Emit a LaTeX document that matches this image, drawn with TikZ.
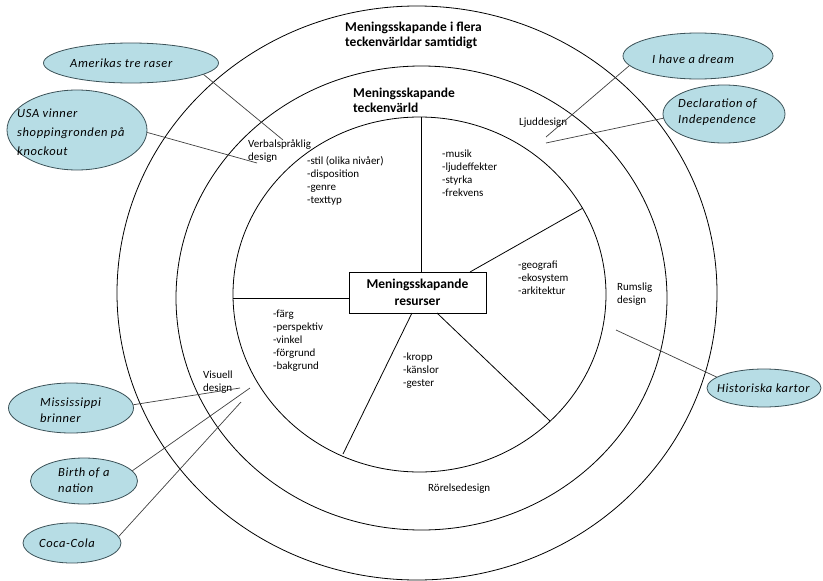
\documentclass[tikz,border=0pt]{standalone}
\usepackage{fontspec}
\setmainfont{Carlito}
\newfontfamily\calloutfont[LetterSpace=5]{Carlito}
\usetikzlibrary{shapes.geometric}
\definecolor{calfill}{RGB}{183,221,229}
\definecolor{caldraw}{RGB}{60,82,88}
\begin{document}
\begin{tikzpicture}[x=1pt,y=-1pt,
  ring/.style={draw=black,line width=0.8pt},
  lbl/.style={font=\fontsize{11}{13}\selectfont,align=left,inner sep=0pt,anchor=west},
  ttl/.style={font=\bfseries\fontsize{13.5}{15.5}\selectfont,align=left,inner sep=0pt,anchor=west},
  callout/.style={ellipse,draw=caldraw,fill=calfill,line width=0.8pt,inner sep=0pt},
  ctext/.style={font=\calloutfont\itshape\fontsize{12.5}{16}\selectfont,align=left,inner sep=0pt,anchor=west},
  conn/.style={draw=black!75,line width=0.7pt},
  spoke/.style={draw=black,line width=0.8pt},
  resbox/.style={draw=black,line width=1pt,fill=white,minimum width=137pt,minimum height=41pt,inner sep=0pt,
    font=\bfseries\fontsize{13.5}{17}\selectfont,align=center}]
\useasboundingbox (0,0) rectangle (823,581);
\fill[white] (0,0) rectangle (823,581);

% rings
\draw[ring] (417,293) ellipse [x radius=300,y radius=287];
\draw[ring] (421.5,298) ellipse [x radius=245.5,y radius=232];
\draw[ring] (419.5,294.5) ellipse [x radius=186.5,y radius=177.5];

% central box
\node[resbox] (box) at (417.5,292.5) {Meningsskapande\\resurser};

% spokes
\coordinate (s1) at (421,117);
\coordinate (s2) at (233,298);
\coordinate (s3) at (583,208);
\coordinate (s3b) at (470,272);
\coordinate (s4) at (343,454);
\coordinate (s4b) at (412,313);
\coordinate (s5) at (550,421);
\coordinate (s5b) at (437,313);
\draw[spoke] (s1) -- (s1 |- box.north);
\draw[spoke] (s2) -- (s2 -| box.west);
\draw[spoke] (s3) -- (s3b);
\draw[spoke] (s4) -- (s4b);
\draw[spoke] (s5) -- (s5b);

% titles
\node[ttl] (t1) at (345,35.5) {Meningsskapande i flera\\teckenvärldar samtidigt};
\node[ttl] (t2) at (353,100.5) {Meningsskapande\\teckenvärld};

% labels
\node[lbl] (verbal) at (248,151.5) {Verbalspråklig\\design};
\node[lbl] (stil) at (307,181) {-stil (olika nivåer)\\-disposition\\-genre\\-texttyp};
\node[lbl] (musik) at (442,173.5) {-musik\\-ljudeffekter\\-styrka\\-frekvens};
\node[lbl] (ljud) at (519,123) {Ljuddesign};
\node[lbl] (geo) at (518,277.5) {-geografi\\-ekosystem\\-arkitektur};
\node[lbl] (rums) at (617,294) {Rumslig\\design};
\node[lbl] (farg) at (273,341) {-färg\\-perspektiv\\-vinkel\\-förgrund\\-bakgrund};
\node[lbl] (kropp) at (403,371) {-kropp\\-känslor\\-gester};
\node[lbl] (visuell) at (203,382) {Visuell\\design};
\node[lbl] (rorelse) at (428,489) {Rörelsedesign};

% callouts
\node[callout,minimum width=175pt,minimum height=40pt] (am) at (131,63) {};
\node[ctext] (am-t) at (70,63) {Amerikas tre raser};
\node[callout,minimum width=140pt,minimum height=80pt] (usa) at (77,130) {};
\node[ctext,font=\calloutfont\itshape\fontsize{12.5}{19}\selectfont] (usa-t) at (17,132) {USA vinner\\shoppingronden på\\knockout};
\node[callout,minimum width=150pt,minimum height=46pt] (dream) at (698,56) {};
\node[ctext] (dream-t) at (652,59) {I have a dream};
\node[callout,minimum width=122pt,minimum height=58pt] (decl) at (724,114) {};
\node[ctext] (decl-t) at (678,112) {Declaration of\\Independence};
\node[callout,minimum width=114pt,minimum height=38pt] (hist) at (764,388) {};
\node[ctext] (hist-t) at (717,388) {Historiska kartor};
\node[callout,minimum width=125pt,minimum height=50pt] (miss) at (71,408) {};
\node[ctext] (miss-t) at (40,410) {Mississippi\\brinner};
\node[callout,minimum width=107pt,minimum height=46pt] (birth) at (84,481) {};
\node[ctext] (birth-t) at (58,480) {Birth of a\\nation};
\node[callout,minimum width=98pt,minimum height=40pt] (coca) at (72,543) {};
\node[ctext] (coca-t) at (39,543) {Coca-Cola};

% connector ends
\coordinate (e-am) at (283,140);
\coordinate (e-usa) at (257,163);
\coordinate (e-dream) at (546,137);
\coordinate (e-decl) at (546,143);
\coordinate (e-hist) at (616,330);
\coordinate (e-miss) at (240,388);
\coordinate (e-birth) at (250,388);
\coordinate (e-coca) at (241,402);

\draw[conn] (am.-9) -- (e-am);
\draw[conn] (usa.-2) -- (e-usa);
\draw[conn] (dream.188) -- (e-dream);
\draw[conn] (decl.184) -- (e-decl);
\draw[conn] (hist.167) -- (e-hist);
\draw[conn] (miss.3) -- (e-miss);
\draw[conn] (birth.12) -- (e-birth);
\draw[conn] (coca.8) -- (e-coca);
\end{tikzpicture}
\end{document}
